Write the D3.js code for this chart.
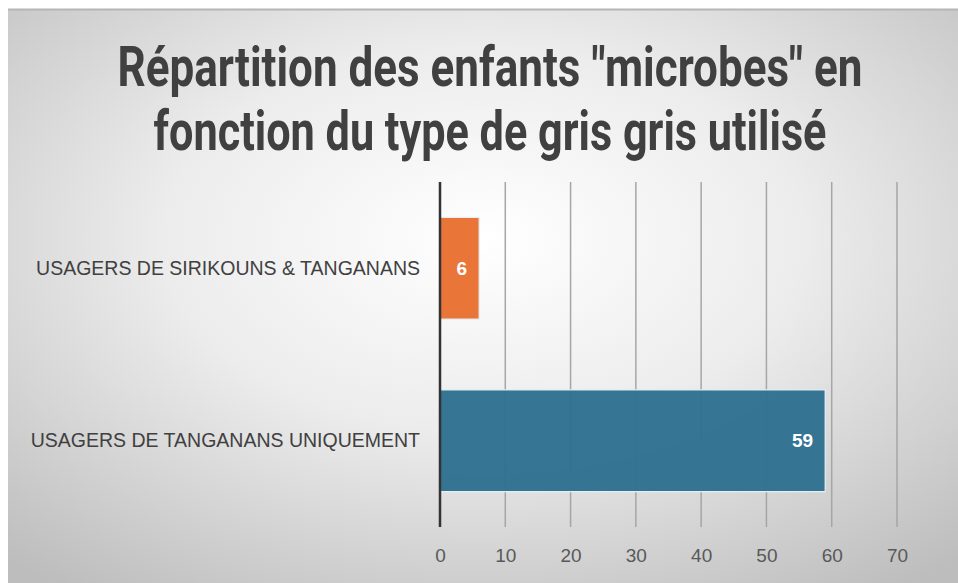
<!DOCTYPE html>
<html>
<head>
<meta charset="utf-8">
<script src="https://cdn.jsdelivr.net/npm/d3@7"></script>
<style>
  html, body { margin: 0; padding: 0; background: #fff; }
  svg { display: block; }
</style>
</head>
<body>
<div id="chart"></div>
<script>
const categories = ['USAGERS DE SIRIKOUNS & TANGANANS', 'USAGERS DE TANGANANS UNIQUEMENT'];
const values = [6, 59];
const barColors = ['#e97132', '#317192'];
const xTicks = [0, 10, 20, 30, 40, 50, 60, 70];
const titleLines = ['Répartition des enfants "microbes" en', 'fonction du type de gris gris utilisé'];

const width = 958;
const height = 583;

const svg = d3.select('#chart').append('svg')
  .attr('width', width)
  .attr('height', height);

const defs = svg.append('defs');
const grad = defs.append('radialGradient')
  .attr('id', 'bg')
  .attr('cx', '50%').attr('cy', '40%').attr('r', '75%');
grad.append('stop').attr('offset', '0%').attr('stop-color', '#ffffff');
grad.append('stop').attr('offset', '45%').attr('stop-color', '#ececec');
grad.append('stop').attr('offset', '100%').attr('stop-color', '#bdbdbd');

// chart frame
svg.append('rect')
  .attr('x', 8).attr('y', 9)
  .attr('width', width - 8).attr('height', height - 9)
  .attr('fill', 'url(#bg)');
svg.append('line')
  .attr('x1', 8).attr('x2', width)
  .attr('y1', 9.5).attr('y2', 9.5)
  .attr('stroke', '#b5b5b5').attr('stroke-width', 2);

// title, squeezed horizontally to the narrow look of the original
const titleWidths = [745, 673];
const title = svg.append('g')
  .selectAll('text')
  .data(titleLines)
  .join('text')
  .attr('text-anchor', 'middle')
  .attr('fill', '#404040')
  .style('font-family', 'Roboto, "Liberation Sans", sans-serif')
  .style('font-weight', '700')
  .style('font-size', '55px')
  .text(d => d);
title.each(function(d, i) {
  const sx = titleWidths[i] / this.getComputedTextLength();
  d3.select(this).attr('transform', `translate(490,${86 + i * 64}) scale(${sx},1)`);
});

const x = d3.scaleLinear()
  .domain([0, 70])
  .range([440, 897]);

const y = d3.scaleBand()
  .domain(categories)
  .range([182, 527])
  .paddingInner(0.41)
  .paddingOuter(0.205);

// gridlines
svg.append('g')
  .selectAll('line')
  .data(xTicks.filter(t => t > 0))
  .join('line')
  .attr('x1', d => x(d)).attr('x2', d => x(d))
  .attr('y1', 182).attr('y2', 527)
  .attr('stroke', '#a6a6a6')
  .attr('stroke-width', 1.5);

// bars
svg.append('g')
  .selectAll('rect')
  .data(values)
  .join('rect')
  .attr('x', x(0))
  .attr('y', (d, i) => y(categories[i]))
  .attr('width', d => x(d) - x(0))
  .attr('height', y.bandwidth())
  .attr('fill', (d, i) => barColors[i])
  .attr('fill-opacity', 0.97)
  .attr('stroke', '#e8f1f6')
  .attr('stroke-width', 1.2);

// value labels
svg.append('g')
  .selectAll('text')
  .data(values)
  .join('text')
  .attr('x', d => x(d) - 12)
  .attr('y', (d, i) => y(categories[i]) + y.bandwidth() / 2)
  .attr('dy', '0.35em')
  .attr('text-anchor', 'end')
  .attr('fill', '#ffffff')
  .style('font-family', '"Liberation Sans", Arial, sans-serif')
  .style('font-weight', '700')
  .style('font-size', '19px')
  .text(d => d);

// y axis
const yAxis = svg.append('g')
  .attr('transform', `translate(${x(0)},0)`)
  .call(d3.axisLeft(y).tickSize(0).tickPadding(20));
yAxis.select('.domain').remove();
yAxis.append('line')
  .attr('x1', 0).attr('x2', 0)
  .attr('y1', 182).attr('y2', 527)
  .attr('stroke', '#333333')
  .attr('stroke-width', 2.5);
yAxis.selectAll('text')
  .attr('fill', '#404040')
  .style('font-family', '"Liberation Sans", Arial, sans-serif')
  .style('font-size', '19.5px');

// x axis
const xAxis = svg.append('g')
  .attr('transform', 'translate(0,527)')
  .call(d3.axisBottom(x).tickValues(xTicks).tickSize(0).tickPadding(22));
xAxis.select('.domain').remove();
xAxis.selectAll('text')
  .attr('fill', '#595959')
  .style('font-family', '"Liberation Sans", Arial, sans-serif')
  .style('font-size', '19px');
</script>
</body>
</html>
